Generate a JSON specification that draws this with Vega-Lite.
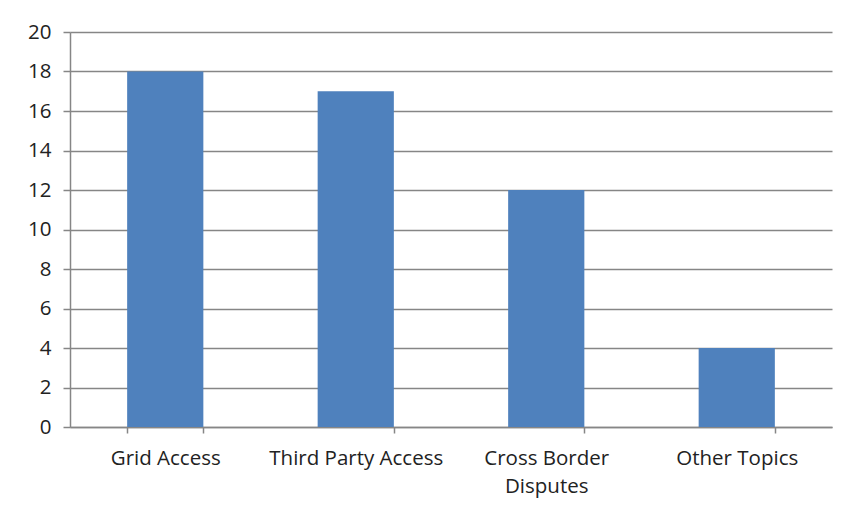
{
  "$schema": "https://vega.github.io/schema/vega-lite/v6.json",
  "autosize": "none",
  "width": 762,
  "height": 395,
  "padding": {"left": 70, "top": 32, "right": 11, "bottom": 83},
  "background": "white",
  "config": {
    "view": {"stroke": null},
    "font": "Open Sans"
  },
  "data": {
    "values": [
      {"topic": "Grid Access", "count": 18},
      {"topic": "Third Party Access", "count": 17},
      {"topic": "Cross Border Disputes", "count": 12},
      {"topic": "Other Topics", "count": 4}
    ]
  },
  "mark": {"type": "bar", "color": "#4F81BD"},
  "encoding": {
    "x": {
      "field": "topic",
      "type": "nominal",
      "sort": null,
      "scale": {"paddingInner": 0.6, "paddingOuter": 0.3},
      "axis": {
        "title": null,
        "labelAngle": 0,
        "labelFontSize": 20.5,
        "labelColor": "#222222",
        "labelPadding": 15,
        "labelLineHeight": 28,
        "labelExpr": "datum.value == 'Cross Border Disputes' ? ['Cross Border', 'Disputes'] : datum.value",
        "domainColor": "#868686",
        "domainWidth": 1.5,
        "tickColor": "#868686",
        "tickSize": 6,
        "tickBand": "extent",
        "tickWidth": 1.5,
        "grid": false
      }
    },
    "y": {
      "field": "count",
      "type": "quantitative",
      "scale": {"domain": [0, 20]},
      "axis": {
        "title": null,
        "values": [0, 2, 4, 6, 8, 10, 12, 14, 16, 18, 20],
        "labelFontSize": 20.5,
        "labelColor": "#222222",
        "labelPadding": 12,
        "domainColor": "#868686",
        "domainWidth": 1.5,
        "tickColor": "#868686",
        "tickSize": 7,
        "tickWidth": 1.5,
        "gridColor": "#868686",
        "gridWidth": 1.5
      }
    }
  }
}
